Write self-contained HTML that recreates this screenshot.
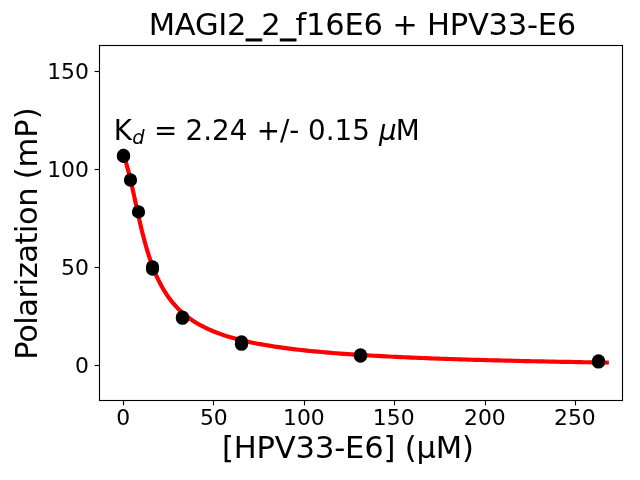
<!DOCTYPE html>
<html lang="en">
<head>
<meta charset="utf-8">
<title>MAGI2_2_f16E6 + HPV33-E6</title>
<style>
html,body{margin:0;padding:0;background:#fff;width:640px;height:480px;overflow:hidden}
svg{display:block;will-change:transform}
text{font-family:"DejaVu Sans","Liberation Sans",sans-serif;fill:#000}
.tick{font-size:22.22px}
.big{font-size:30.56px}
.ann{font-size:27.78px}
.sub{font-size:19.44px;font-style:italic}
.it{font-style:italic}
.us{stroke:#000;stroke-width:0.8px}
</style>
</head>
<body>
<svg width="640" height="480" viewBox="0 0 640 480">
<rect x="0" y="0" width="640" height="480" fill="#ffffff"/>
<!-- fitted curve -->
<polyline points="122.9,151.0 128.50,171.62 129.41,175.21 130.32,178.96 131.23,182.85 132.14,186.85 133.05,190.96 133.96,195.13 134.87,199.34 135.78,203.56 136.69,207.77 137.60,211.94 138.51,216.06 139.42,220.10 140.33,224.05 141.24,227.90 142.15,231.64 143.06,235.27 143.97,238.79 144.88,242.18 145.78,245.45 146.69,248.61 147.60,251.64 148.51,254.57 149.42,257.38 150.33,260.08 151.24,262.68 152.15,265.18 153.06,267.58 153.97,269.89 154.88,272.12 155.79,274.26 156.70,276.31 157.61,278.29 158.52,280.20 159.43,282.04 160.34,283.81 161.25,285.51 162.16,287.16 163.07,288.75 163.98,290.28 164.89,291.76 165.80,293.19 166.71,294.57 167.62,295.90 168.53,297.20 169.44,298.45 170.35,299.66 171.26,300.83 172.17,301.96 173.08,303.06 173.99,304.13 174.90,305.16 175.81,306.17 176.72,307.14 177.63,308.09 178.54,309.01 179.44,309.90 180.35,310.77 181.26,311.62 182.17,312.44 183.08,313.24 183.99,314.02 184.90,314.77 185.81,315.51 186.72,316.23 187.63,316.93 188.54,317.62 189.45,318.28 190.36,318.93 191.27,319.57 192.18,320.19 193.09,320.79 194.00,321.38 194.91,321.96 195.82,322.52 197.63,323.61 201.38,325.71 205.14,327.63 208.89,329.39 212.64,331.01 216.40,332.51 220.15,333.90 223.90,335.20 227.66,336.40 231.41,337.52 235.16,338.58 238.92,339.56 242.67,340.49 246.43,341.36 250.18,342.19 253.93,342.96 257.69,343.70 261.44,344.39 265.19,345.05 268.95,345.68 272.70,346.28 276.46,346.85 280.21,347.39 283.96,347.91 287.72,348.40 291.47,348.87 295.22,349.33 298.98,349.76 302.73,350.17 306.48,350.57 310.24,350.96 313.99,351.33 317.75,351.68 321.50,352.02 325.25,352.35 329.01,352.67 332.76,352.97 336.51,353.27 340.27,353.55 344.02,353.83 347.77,354.10 351.53,354.36 355.28,354.61 359.04,354.85 362.79,355.08 366.54,355.31 370.30,355.53 374.05,355.74 377.80,355.95 381.56,356.15 385.31,356.35 389.07,356.54 392.82,356.73 396.57,356.91 400.33,357.08 404.08,357.25 407.83,357.42 411.59,357.58 415.34,357.74 419.09,357.89 422.85,358.04 426.60,358.19 430.36,358.33 434.11,358.47 437.86,358.61 441.62,358.74 445.37,358.87 449.12,359.00 452.88,359.12 456.63,359.25 460.39,359.37 464.14,359.48 467.89,359.59 471.65,359.71 475.40,359.82 479.15,359.92 482.91,360.03 486.66,360.13 490.41,360.23 494.17,360.33 497.92,360.42 501.68,360.52 505.43,360.61 509.18,360.70 512.94,360.79 516.69,360.88 520.44,360.96 524.20,361.05 527.95,361.13 531.70,361.21 535.46,361.29 539.21,361.37 542.97,361.44 546.72,361.52 550.47,361.59 554.23,361.67 557.98,361.74 561.73,361.81 565.49,361.88 569.24,361.95 573.00,362.01 576.75,362.08 580.50,362.14 584.26,362.21 588.01,362.27 591.76,362.33 595.52,362.39 599.27,362.45 603.02,362.51 606.78,362.57" fill="none" stroke="#ff0000" stroke-width="4.17" stroke-linecap="square" stroke-linejoin="round"/>
<!-- data points -->
<g fill="#000000">
<circle cx="123.5" cy="155.4" r="6.65"/>
<circle cx="123.5" cy="156.4" r="6.65"/>
<circle cx="130.5" cy="180.0" r="6.65"/>
<circle cx="138.5" cy="211.9" r="6.65"/>
<circle cx="152.5" cy="266.95" r="6.65"/>
<circle cx="152.5" cy="269.05" r="6.65"/>
<circle cx="182.5" cy="317.2" r="6.65"/>
<circle cx="182.5" cy="318.2" r="6.65"/>
<circle cx="241.5" cy="341.9" r="6.65"/>
<circle cx="241.5" cy="344.2" r="6.65"/>
<circle cx="360.5" cy="354.85" r="6.65"/>
<circle cx="360.5" cy="356.15" r="6.65"/>
<circle cx="598.5" cy="360.85" r="6.65"/>
<circle cx="598.5" cy="361.95" r="6.65"/>
</g>
<!-- axes frame -->
<rect x="99.5" y="45.5" width="523.0" height="355.0" fill="none" stroke="#000" stroke-width="1.11"/>
<g stroke="#000" stroke-width="1.11">
<line x1="123.5" y1="400.5" x2="123.5" y2="405.36"/>
<line x1="213.5" y1="400.5" x2="213.5" y2="405.36"/>
<line x1="304.5" y1="400.5" x2="304.5" y2="405.36"/>
<line x1="394.5" y1="400.5" x2="394.5" y2="405.36"/>
<line x1="485.5" y1="400.5" x2="485.5" y2="405.36"/>
<line x1="575.5" y1="400.5" x2="575.5" y2="405.36"/>
<line x1="99.5" y1="365.5" x2="94.64" y2="365.5"/>
<line x1="99.5" y1="267.5" x2="94.64" y2="267.5"/>
<line x1="99.5" y1="169.5" x2="94.64" y2="169.5"/>
<line x1="99.5" y1="71.5" x2="94.64" y2="71.5"/>
</g>
<g class="tick">
<text transform="translate(123.2 425) scale(0.985 0.955)" text-anchor="middle">0</text>
<text transform="translate(213.8 425) scale(0.985 0.955)" text-anchor="middle">50</text>
<text transform="translate(303.9 425) scale(0.985 0.955)" text-anchor="middle">100</text>
<text transform="translate(393.7 425) scale(0.985 0.955)" text-anchor="middle">150</text>
<text transform="translate(484.9 425) scale(0.985 0.955)" text-anchor="middle">200</text>
<text transform="translate(574.9 425) scale(0.985 0.955)" text-anchor="middle">250</text>
<text transform="translate(88.9 372.7) scale(0.985 0.955)" text-anchor="end">0</text>
<text transform="translate(88.9 274.7) scale(0.985 0.955)" text-anchor="end">50</text>
<text transform="translate(88.9 176.7) scale(0.985 0.955)" text-anchor="end">100</text>
<text transform="translate(88.9 78.7) scale(0.985 0.955)" text-anchor="end">150</text>
</g>
<text class="big" x="148.7" y="34.75" textLength="427.5" lengthAdjust="spacing">MAGI2<tspan class="us" dy="-0.45">_</tspan><tspan dy="0.45">2</tspan><tspan class="us" dy="-0.45">_</tspan><tspan dy="0.45">f16E6 + HPV33-E6</tspan></text>
<text class="big" x="222" y="457.5" textLength="252" lengthAdjust="spacing">[HPV33-E6] (μM)</text>
<text class="big" transform="translate(36.7,359.7) rotate(-90)"><tspan x="0" textLength="172.3" lengthAdjust="spacing">Polarization</tspan><tspan x="180.4"> </tspan><tspan x="180.4">(mP)</tspan></text>
<g class="ann">
<text><tspan x="113.77" y="140">K</tspan><tspan class="sub" x="132.2" y="143.75">d </tspan><tspan x="154.1" y="140">= </tspan><tspan x="185.5" y="140">2.24 </tspan><tspan x="256.76" y="140">+/- </tspan><tspan x="308.0" y="140">0.15 </tspan><tspan class="it" x="379.0" y="140">μ</tspan><tspan x="395.8" y="140">M</tspan></text>
</g>
</svg>
</body>
</html>
